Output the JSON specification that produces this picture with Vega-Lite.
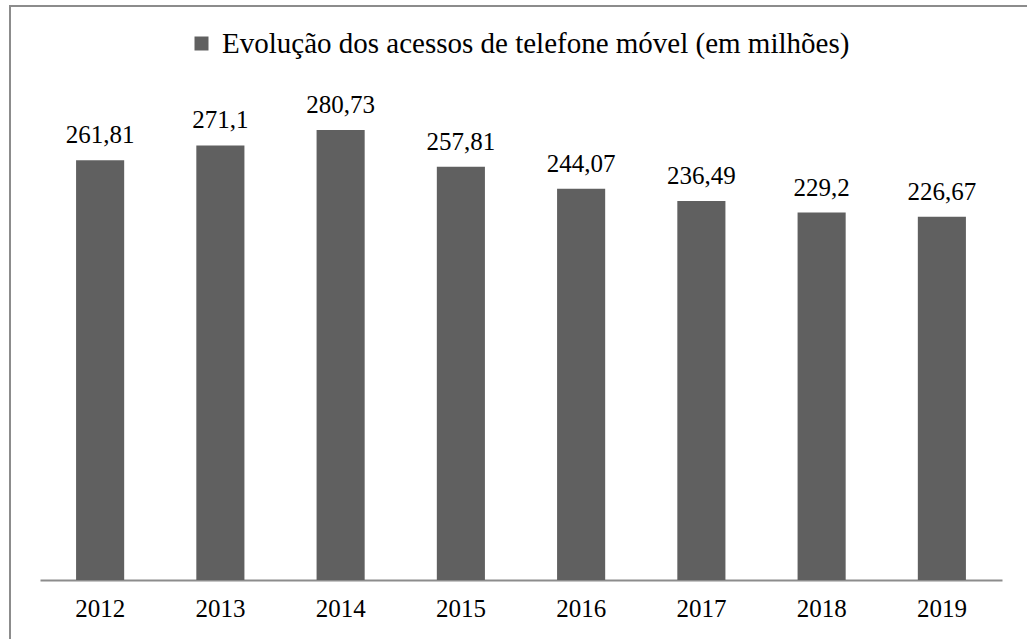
{
  "$schema": "https://vega.github.io/schema/vega-lite/v6.json",
  "autosize": "none",
  "width": 1030,
  "height": 650,
  "padding": {"left": 10, "top": 6, "right": 0, "bottom": 0},
  "background": "white",
  "config": {
    "view": {"stroke": "#8c8c8c", "strokeWidth": 2},
    "font": "Liberation Serif",
    "text": {"font": "Liberation Serif", "fontSize": 25},
    "legend": {
      "labelFont": "Liberation Serif",
      "labelFontSize": 29,
      "labelColor": "#000000",
      "labelLimit": 1000
    },
    "axis": {"labelFont": "Liberation Serif", "labelFontSize": 25}
  },
  "data": {
    "values": [
      {"ano": "2012", "valor": 261.81, "rotulo": "261,81", "serie": "Evolução dos acessos de telefone móvel (em milhões)"},
      {"ano": "2013", "valor": 271.1, "rotulo": "271,1", "serie": "Evolução dos acessos de telefone móvel (em milhões)"},
      {"ano": "2014", "valor": 280.73, "rotulo": "280,73", "serie": "Evolução dos acessos de telefone móvel (em milhões)"},
      {"ano": "2015", "valor": 257.81, "rotulo": "257,81", "serie": "Evolução dos acessos de telefone móvel (em milhões)"},
      {"ano": "2016", "valor": 244.07, "rotulo": "244,07", "serie": "Evolução dos acessos de telefone móvel (em milhões)"},
      {"ano": "2017", "valor": 236.49, "rotulo": "236,49", "serie": "Evolução dos acessos de telefone móvel (em milhões)"},
      {"ano": "2018", "valor": 229.2, "rotulo": "229,2", "serie": "Evolução dos acessos de telefone móvel (em milhões)"},
      {"ano": "2019", "valor": 226.67, "rotulo": "226,67", "serie": "Evolução dos acessos de telefone móvel (em milhões)"}
    ]
  },
  "encoding": {
    "x": {
      "field": "ano",
      "type": "nominal",
      "sort": null,
      "scale": {"range": [30, 992], "paddingInner": 0.6, "paddingOuter": 0.3},
      "axis": {
        "title": null,
        "offset": -76,
        "orient": "bottom",
        "domainColor": "#8c8c8c",
        "domainWidth": 2,
        "ticks": false,
        "labelAngle": 0,
        "labelFont": "Liberation Serif",
        "labelFontSize": 25,
        "labelColor": "#000000",
        "labelPadding": 16,
        "grid": false
      }
    },
    "y": {
      "field": "valor",
      "type": "quantitative",
      "scale": {"domain": [0, 300], "range": [574, 93.1], "nice": false, "zero": true},
      "axis": null
    }
  },
  "layer": [
    {
      "mark": {"type": "bar", "color": "#606060"},
      "encoding": {
        "color": {
          "field": "serie",
          "type": "nominal",
          "scale": {"range": ["#606060"]},
          "legend": {
            "title": null,
            "orient": "none",
            "legendX": 177,
            "legendY": 23,
            "symbolType": "square",
            "symbolSize": 196,
            "symbolStrokeWidth": 0,
            "symbolFillColor": "#606060",
            "labelFont": "Liberation Serif",
            "labelFontSize": 29,
            "labelColor": "#000000",
            "labelOffset": 6,
            "labelLimit": 1000
          }
        }
      }
    },
    {
      "mark": {
        "type": "text",
        "baseline": "alphabetic",
        "dy": -17,
        "font": "Liberation Serif",
        "fontSize": 25,
        "color": "#000000"
      },
      "encoding": {
        "text": {"field": "rotulo", "type": "nominal"}
      }
    }
  ]
}
